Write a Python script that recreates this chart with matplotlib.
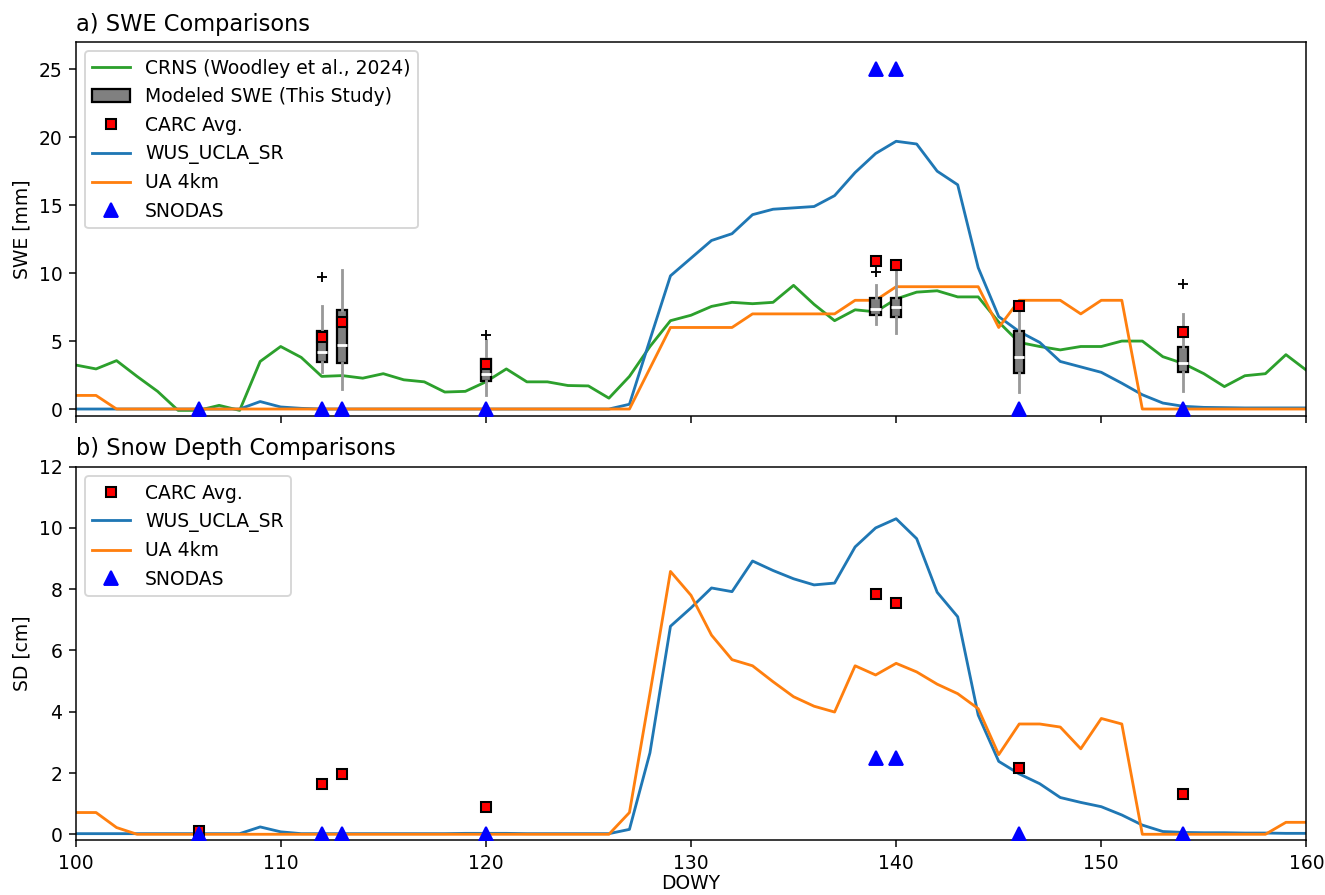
# plot.py
# swe and snow depth comparisons over the water year

import numpy as np
import matplotlib.pyplot as plt
from matplotlib.patches import Patch

# day of water year
dowy = np.arange(100, 161)

# a) swe [mm]
crns_swe = [3.24, 2.95, 3.56, 2.4, 1.3, -0.1, -0.1, 0.27, -0.1, 3.5,
            4.6, 3.8, 2.4, 2.46, 2.27, 2.6, 2.15, 2.0, 1.25, 1.3,
            2.0, 2.95, 2.0, 2.0, 1.73, 1.7, 0.8, 2.4, 4.6, 6.5,
            6.9, 7.55, 7.85, 7.75, 7.85, 9.1, 7.7, 6.5, 7.3, 7.15,
            8.1, 8.6, 8.7, 8.25, 8.25, 6.4, 4.9, 4.6, 4.35, 4.6,
            4.6, 5.0, 5.0, 3.85, 3.35, 2.6, 1.65, 2.45, 2.6, 4.0,
            2.85]
wus_swe = [0, 0, 0, 0, 0, 0, 0, 0, 0, 0.55,
           0.15, 0.05, 0, 0, 0, 0, 0, 0, 0, 0,
           0, 0, 0, 0, 0, 0, 0, 0.35, 5.1, 9.8,
           11.1, 12.4, 12.9, 14.3, 14.7, 14.8, 14.9, 15.7, 17.4, 18.8,
           19.7, 19.5, 17.5, 16.5, 10.4, 6.8, 5.7, 4.9, 3.5, 3.1,
           2.7, 1.9, 1.05, 0.44, 0.2, 0.12, 0.1, 0.08, 0.08, 0.08,
           0.08]
ua_swe = [1, 1, 0, 0, 0, 0, 0, 0, 0, 0,
          0, 0, 0, 0, 0, 0, 0, 0, 0, 0,
          0, 0, 0, 0, 0, 0, 0, 0, 3, 6,
          6, 6, 6, 7, 7, 7, 7, 7, 8, 8,
          9, 9, 9, 9, 9, 6, 8, 8, 8, 7,
          8, 8, 0, 0, 0, 0, 0, 0, 0, 0,
          0]

# modeled swe box stats
box_days = [112, 113, 120, 139, 140, 146, 154]
box_whislo = [2.7, 1.49, 1.02, 6.29, 5.56, 1.22, 1.29]
box_q1 = [3.49, 3.36, 2.07, 6.94, 6.77, 2.63, 2.7]
box_med = [4.17, 4.7, 2.55, 7.38, 7.5, 3.85, 3.41]
box_q3 = [5.73, 7.3, 3.65, 8.19, 8.19, 5.73, 4.53]
box_whishi = [7.58, 10.2, 5.1, 9.14, 10.3, 7.26, 7.0]
box_fliers = [[9.7], [], [5.46], [10.07], [], [], [9.2]]

carc_swe_days = [112, 113, 120, 139, 140, 146, 154]
carc_swe = [5.3, 6.4, 3.3, 10.9, 10.6, 7.6, 5.7]

snodas_days = [106, 112, 113, 120, 139, 140, 146, 154]
snodas_swe = [0, 0, 0, 0, 25, 25, 0, 0]

# b) snow depth [cm]
wus_sd = [0.02, 0.02, 0.02, 0.02, 0.02, 0.02, 0.02, 0.02, 0.02, 0.24,
          0.08, 0.02, 0.02, 0.02, 0.02, 0.02, 0.02, 0.02, 0.02, 0.03,
          0.03, 0.03, 0.02, 0.02, 0.02, 0.02, 0.02, 0.16, 2.66, 6.79,
          7.39, 8.04, 7.92, 8.92, 8.61, 8.34, 8.14, 8.2, 9.38, 10.0,
          10.3, 9.65, 7.9, 7.1, 3.89, 2.38, 1.97, 1.65, 1.2, 1.04,
          0.9, 0.63, 0.3, 0.09, 0.06, 0.05, 0.05, 0.04, 0.04, 0.03,
          0.03]
ua_sd = [0.71, 0.71, 0.22, 0, 0, 0, 0, 0, 0, 0,
         0, 0, 0, 0, 0, 0, 0, 0, 0, 0,
         0, 0, 0, 0, 0, 0, 0, 0.71, 4.6, 8.58,
         7.8, 6.5, 5.7, 5.5, 4.98, 4.49, 4.18, 3.99, 5.5, 5.2,
         5.58, 5.3, 4.9, 4.59, 4.1, 2.6, 3.6, 3.6, 3.5, 2.79,
         3.78, 3.6, 0, 0, 0, 0, 0, 0, 0, 0.39,
         0.39]

carc_sd_days = [106, 112, 113, 120, 139, 140, 146, 154]
carc_sd = [0.11, 1.64, 1.97, 0.9, 7.84, 7.55, 2.16, 1.31]
snodas_sd = [0, 0, 0, 0, 2.5, 2.5, 0, 0]

fig, (ax1, ax2) = plt.subplots(2, 1, figsize=(1325 / 135, 895 / 135), sharex=True)
fig.subplots_adjust(left=0.057, right=0.986, top=0.953, bottom=0.061, hspace=0.136)

carc_style = dict(linestyle='none', marker='s', markerfacecolor='red',
                  markeredgecolor='black', markersize=5.5, markeredgewidth=1.1, zorder=4)
snodas_style = dict(linestyle='none', marker='^', color='blue', markersize=7.5, zorder=5)

# top panel: swe
ax1.plot(dowy, crns_swe, color='tab:green')
ax1.plot(dowy, wus_swe, color='tab:blue')
ax1.plot(dowy, ua_swe, color='tab:orange')

stats = []
for i in range(len(box_days)):
    stats.append(dict(whislo=box_whislo[i], q1=box_q1[i], med=box_med[i],
                      q3=box_q3[i], whishi=box_whishi[i], fliers=box_fliers[i]))
ax1.bxp(stats, positions=box_days, widths=0.5, patch_artist=True, showcaps=False,
        manage_ticks=False,
        boxprops=dict(facecolor='grey', edgecolor='black', linewidth=1.2),
        whiskerprops=dict(color='#999999', linewidth=1.5),
        medianprops=dict(color='white', linewidth=1.5),
        flierprops=dict(marker='+', markeredgecolor='black', markersize=5))

ax1.plot(carc_swe_days, carc_swe, **carc_style)
ax1.plot(snodas_days, snodas_swe, **snodas_style)

handles = [
    plt.Line2D([], [], color='tab:green'),
    Patch(facecolor='grey', edgecolor='black', linewidth=1.2),
    plt.Line2D([], [], **carc_style),
    plt.Line2D([], [], color='tab:blue'),
    plt.Line2D([], [], color='tab:orange'),
    plt.Line2D([], [], **snodas_style),
]
labels = ['CRNS (Woodley et al., 2024)', 'Modeled SWE (This Study)', 'CARC Avg.',
          'WUS_UCLA_SR', 'UA 4km', 'SNODAS']
ax1.legend(handles, labels, loc='upper left')
ax1.set_ylim(-0.5, 27)
ax1.set_yticks([0, 5, 10, 15, 20, 25])
ax1.set_ylabel('SWE [mm]')
ax1.set_title('a) SWE Comparisons', loc='left', fontsize=12)

# bottom panel: snow depth
ax2.plot(carc_sd_days, carc_sd, label='CARC Avg.', **carc_style)
ax2.plot(dowy, wus_sd, color='tab:blue', label='WUS_UCLA_SR')
ax2.plot(dowy, ua_sd, color='tab:orange', label='UA 4km')
ax2.plot(snodas_days, snodas_sd, label='SNODAS', **snodas_style)
ax2.legend(loc='upper left')
ax2.set_ylim(-0.2, 12)
ax2.set_yticks([0, 2, 4, 6, 8, 10, 12])
ax2.set_ylabel('SD [cm]')
ax2.set_xlabel('DOWY', labelpad=1)
ax2.set_title('b) Snow Depth Comparisons', loc='left', fontsize=12)
ax2.set_xlim(100, 160)

fig.savefig('out.png', dpi=135)
